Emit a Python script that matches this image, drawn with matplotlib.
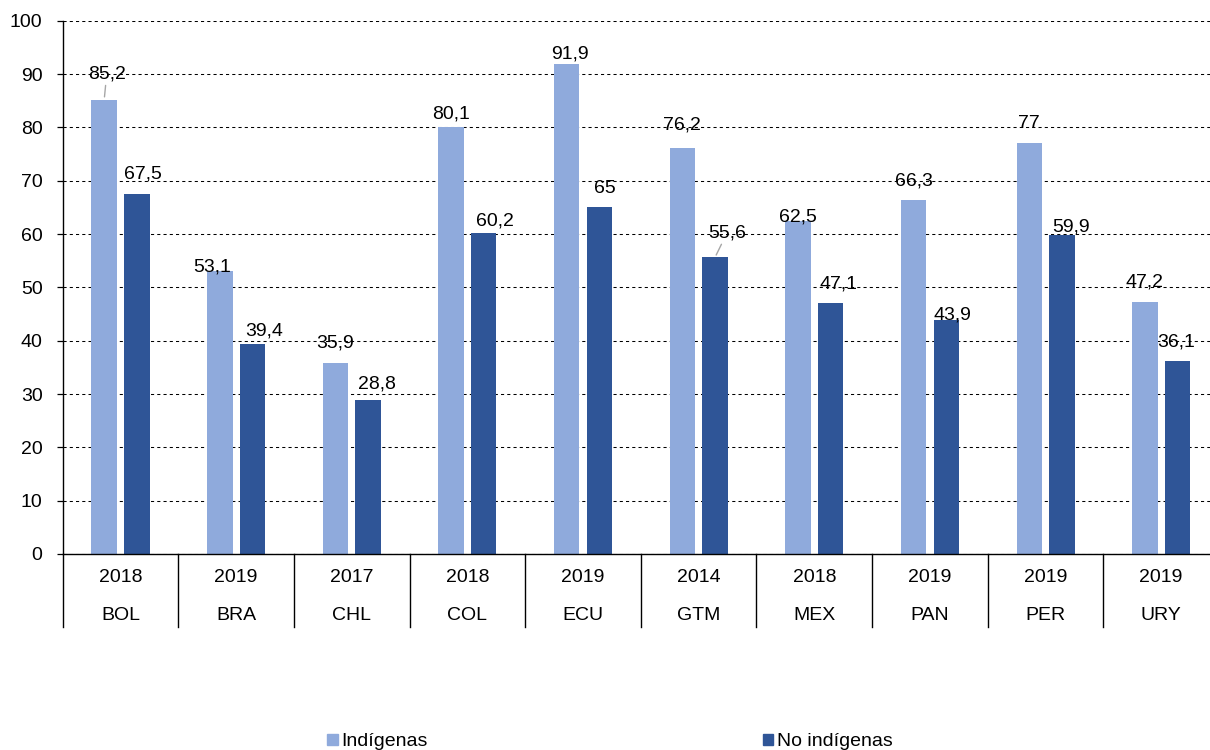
import numpy as np
import matplotlib
matplotlib.use("Agg")
import matplotlib.pyplot as plt
from matplotlib.patches import Patch

plt.rcParams['font.family'] = ['Liberation Sans', 'DejaVu Sans']
FS = 14

# data
countries = ['BOL', 'BRA', 'CHL', 'COL', 'ECU', 'GTM', 'MEX', 'PAN', 'PER', 'URY']
years = ['2018', '2019', '2017', '2018', '2019', '2014', '2018', '2019', '2019', '2019']
indigenas = [85.2, 53.1, 35.9, 80.1, 91.9, 76.2, 62.5, 66.3, 77, 47.2]
no_indigenas = [67.5, 39.4, 28.8, 60.2, 65, 55.6, 47.1, 43.9, 59.9, 36.1]

# label placement (pixels: dx, height of text centre above bar top)
off_ind = [(2.5, 28), (-7.5, 6), (0, 22.5), (0, 15), (3.5, 12),
           (0, 25), (0, 6.5), (0, 21.5), (0, 22.5), (0, 22.5)]
off_no = [(6, 23), (11.5, 15.5), (9, 18.5), (11.5, 14), (5.5, 21.5),
          (12, 27), (7.5, 21), (6, 7.5), (9, 10), (-1, 22)]
leader_ind = [0]
leader_no = [5]

c_ind = '#8FAADC'
c_no = '#2F5597'

fig = plt.figure(figsize=(12.1, 7.5), dpi=100)
ax = fig.add_axes([62.7 / 1210, 1 - 554 / 750, (1219 - 62.7) / 1210, (554 - 20.7) / 750])

x = np.arange(len(countries))
w = 0.22
off = 0.141
ax.bar(x - off, indigenas, w, color=c_ind, zorder=2)
ax.bar(x + off, no_indigenas, w, color=c_no, zorder=2)

def fmt(v):
    s = ('%.1f' % v).replace('.', ',')
    return s[:-2] if s.endswith(',0') else s

def put_labels(xs, vals, offs, leaders):
    for i, (xx, v) in enumerate(zip(xs, vals)):
        dx, up = offs[i]
        kw = {}
        if i in leaders:
            kw['arrowprops'] = dict(arrowstyle='-', color='#A6A6A6', lw=1,
                                    shrinkA=0, shrinkB=2)
        ax.annotate(fmt(v), xy=(xx, v), xytext=(dx, up - 7),
                    textcoords='offset pixels', ha='center', va='baseline',
                    fontsize=FS, color='black', zorder=4, **kw)

put_labels(x - off, indigenas, off_ind, leader_ind)
put_labels(x + off, no_indigenas, off_no, leader_no)

ax.set_xlim(-0.5, len(countries) - 0.5)
ax.set_ylim(0, 100)
ax.set_yticks(np.arange(0, 101, 10))
ax.yaxis.grid(True, color='black', linestyle=(0, (3, 3)), linewidth=0.75, zorder=0)
ax.set_axisbelow(True)
ax.set_xticks([])
ax.tick_params(axis='y', length=4.5, width=0.9, pad=10, labelsize=FS)
for s in ['top', 'right']:
    ax.spines[s].set_visible(False)
ax.spines['left'].set_linewidth(1)
ax.spines['bottom'].set_linewidth(1)

# two-level category axis
tr = ax.get_xaxis_transform()
drop = 73 / (554 - 20.7)
for b in np.arange(-0.5, len(countries), 1.0):
    ax.plot([b, b], [0, -drop], transform=tr, color='black', lw=1, clip_on=False)
for i in range(len(countries)):
    ax.annotate(years[i], xy=(i, 0), xycoords=tr, xytext=(0, -24),
                textcoords='offset pixels', ha='center', va='center', fontsize=FS)
    ax.annotate(countries[i], xy=(i, 0), xycoords=tr, xytext=(0, -61),
                textcoords='offset pixels', ha='center', va='center', fontsize=FS)

handles = [Patch(color=c_ind, label='Indígenas'), Patch(color=c_no, label='No indígenas')]
fig.legend(handles=handles, loc='center', bbox_to_anchor=(610 / 1210, 1 - 742 / 750),
           ncol=2, frameon=False, handlelength=0.55, handleheight=0.55,
           handletextpad=0.2, columnspacing=17.2, fontsize=FS, borderpad=0)

fig.savefig('out.png', dpi=100)
